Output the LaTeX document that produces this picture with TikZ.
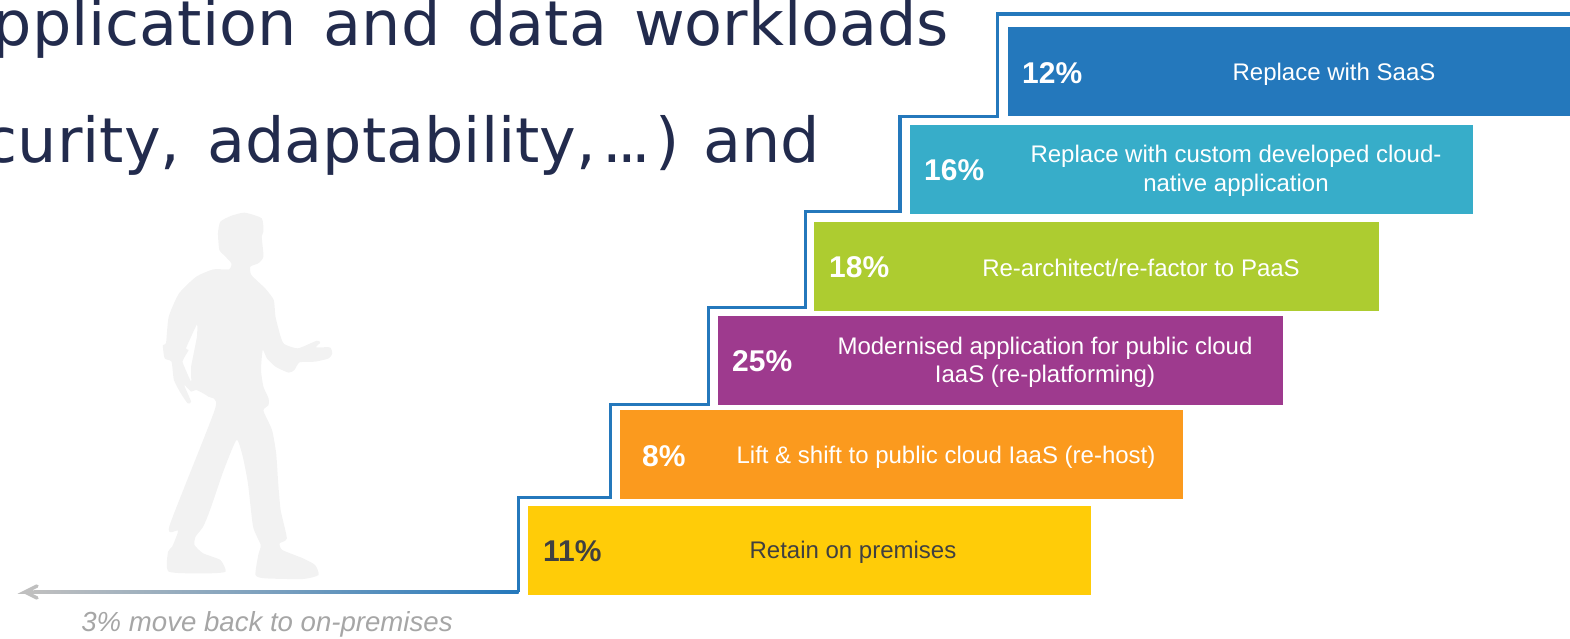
\documentclass[tikz,border=0pt]{standalone}
\usepackage{fontspec}
\setmainfont{Liberation Sans}
\newfontfamily\titlefont[WordSpace=1.37]{DejaVu Sans}
\usetikzlibrary{arrows.meta}
\definecolor{cyellow}{HTML}{FFCC08}
\definecolor{corange}{HTML}{FB9A1E}
\definecolor{cpurple}{HTML}{9E3A8E}
\definecolor{cgreen}{HTML}{ADCC30}
\definecolor{cteal}{HTML}{37ADC9}
\definecolor{cblue}{HTML}{2478BC}
\definecolor{ctitle}{HTML}{222B4D}
\definecolor{cdark}{HTML}{404040}
\definecolor{cgrey}{HTML}{BFBFBF}
\definecolor{ccap}{HTML}{A6A6A6}
\definecolor{cfig}{HTML}{F2F2F2}
\tikzset{
  stepbox/.style={anchor=north west,inner sep=0pt,minimum width=#1,minimum height=89pt},
  pct/.style={anchor=base west,inner sep=0pt,font=\fontsize{30}{30}\selectfont\bfseries},
  desc/.style={align=center,inner sep=0pt,font=\fontsize{24}{28.5}\selectfont},
  titleline/.style={anchor=base east,inner sep=0pt,text=ctitle,font=\titlefont\fontsize{62}{62}\selectfont},
  stair/.style={draw=cblue,line width=3.5pt,line join=miter}
}
\begin{document}
\begin{tikzpicture}[x=1pt,y=-1pt]
\useasboundingbox (0,0) rectangle (1570,638);
\clip (0,0) rectangle (1570,638);
% title
\node[titleline] (t1) at (949,45.5) {pplication and data workloads};
\node[titleline] (t2) at (820,162) {curity, adaptability,\kern6pt.\kern-5pt.\kern-5pt.\kern4pt) \kern-10pt and};
% figure
\begin{scope}[shift={(0pt,-190pt)},x=0.34435pt,y=-0.33333pt]
\fill[cfig,even odd rule]
 plot[smooth cycle,tension=0.35] coordinates {
 (710,68) (760,85) (765,125) (760,140) (765,200) (750,220) (727,230) (730,255) (770,295) (795,330) (800,380) (815,440) (825,462) (865,475) (920,452) (930,458) (918,472) (958,472) (965,490) (955,505) (915,515) (870,517) (855,540) (838,548) (800,530) (775,505) (763,480) (758,540) (765,590) (780,625) (780,645) (765,662) (790,720) (802,790) (808,880) (815,960) (833,1045) (812,1060) (820,1080) (880,1105) (915,1125) (925,1155) (880,1167) (770,1165) (742,1155) (750,1095) (757,1065) (735,1010) (720,880) (705,800) (687,750) (650,840) (610,960) (590,1010) (568,1040) (565,1065) (590,1090) (640,1110) (655,1145) (600,1150) (490,1145) (488,1085) (500,1070) (517,1022) (492,1008) (625,655) (605,620) (570,600) (555,605) (535,585) (555,635) (545,640) (525,610) (505,570) (498,515) (478,505) (473,465) (482,460) (490,380) (520,310) (570,260) (620,238) (665,238) (672,220) (650,195) (637,180) (633,130) (640,95) (670,78)}
 plot[smooth cycle,tension=0.2] coordinates {(572,403) (540,475) (548,480) (530,515) (555,575) (555,530) (572,440)};
\end{scope}
% stair line
\coordinate (s0) at (1575,14);
\coordinate (s1) at (997.5,14);
\coordinate (s2) at (997.5,116.5);
\coordinate (s3) at (900,116.5);
\coordinate (s4) at (900,211.5);
\coordinate (s5) at (805.5,211.5);
\coordinate (s6) at (805.5,307.5);
\coordinate (s7) at (708.5,307.5);
\coordinate (s8) at (708.5,404.5);
\coordinate (s9) at (610.5,404.5);
\coordinate (s10) at (610.5,497.5);
\coordinate (s11) at (518.5,497.5);
\coordinate (s12) at (518.5,592);
\coordinate (s13) at (36,592);
\coordinate (s14) at (25,592);
\shade[left color=cgrey,right color=cblue,middle color=cgrey!55!cblue] (34,590.25) rectangle (518.5,593.75);
\draw[stair] (s0) -- (s1) -- (s2) -- (s3) -- (s4) -- (s5) -- (s6) -- (s7) -- (s8) -- (s9) -- (s10) -- (s11) -- (s12);
\draw[cgrey,line width=3.5pt,line cap=round] (s13) -- (s14) -- ++(12,-6) (s14) -- ++(12,6);
% boxes
\node[stepbox=640pt,fill=cblue] (b6) at (1008,27) {};
\node[stepbox=563.5pt,fill=cteal] (b5) at (909.5,125) {};
\node[stepbox=565pt,fill=cgreen] (b4) at (814,222) {};
\node[stepbox=565pt,fill=cpurple] (b3) at (718,316) {};
\node[stepbox=563pt,fill=corange] (b2) at (620,410) {};
\node[stepbox=563pt,fill=cyellow] (b1) at (528,505.5) {};
% labels
\node[pct,text=white] (p6) at (1022,83) {12\%};
\node[pct,text=white] (p5) at (924,180) {16\%};
\node[pct,text=white] (p4) at (829,277) {18\%};
\node[pct,text=white] (p3) at (732,371) {25\%};
\node[pct,text=white] (p2) at (642,466) {8\%};
\node[pct,text=cdark] (p1) at (543,561) {11\%};
\node[desc,text=white] (d6) at (1334,74.5) {Replace with SaaS};
\node[desc,text=white] (d5) at (1236,171) {Replace with custom developed cloud-\\native application};
\node[desc,text=white] (d4) at (1141,267.5) {Re-architect/re-factor to PaaS};
\node[desc,text=white] (d3) at (1045,362.5) {Modernised application for public cloud\\IaaS (re-platforming)};
\node[desc,text=white] (d2) at (946,457) {Lift \& shift to public cloud IaaS (re-host)};
\node[desc,text=cdark] (d1) at (853,552) {Retain on premises};
\node[anchor=base,inner sep=0pt,text=ccap,font=\fontsize{27.6}{27.6}\selectfont\itshape] (cap) at (267,631) {3\% move back to on-premises};
\end{tikzpicture}
\end{document}
